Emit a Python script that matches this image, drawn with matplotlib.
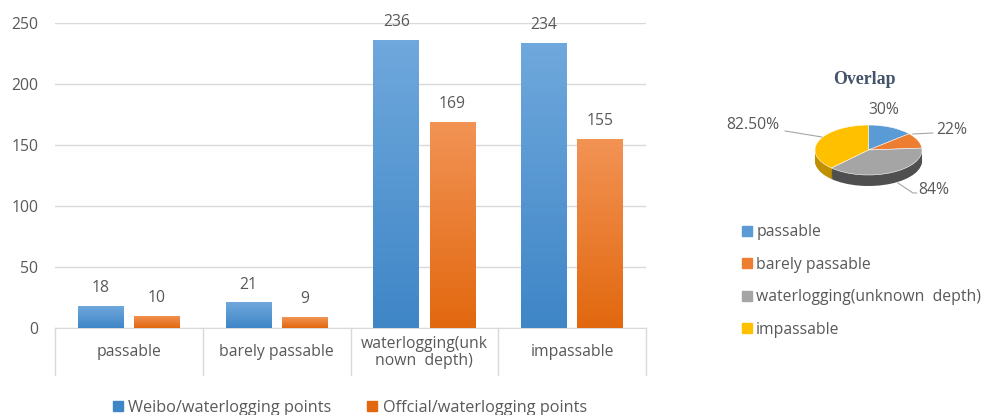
import numpy as np
import matplotlib.pyplot as plt
from matplotlib.patches import Patch

plt.rcParams['font.family'] = ['Open Sans', 'DejaVu Sans']

categories = ['passable', 'barely passable', 'waterlogging(unk\nnown  depth)', 'impassable']
weibo = [18, 21, 236, 234]
official = [10, 9, 169, 155]
series_names = ['Weibo/waterlogging points', 'Offcial/waterlogging points']

pie_labels = ['passable', 'barely passable', 'waterlogging(unknown  depth)', 'impassable']
overlap = [30, 22, 84, 82.5]
overlap_text = ['30%', '22%', '84%', '82.50%']

txt = '#595959'
grid = '#D9D9D9'
blue_top, blue_bot = '#6FA8DC', '#3F86C7'
orng_top, orng_bot = '#F29355', '#E2680F'
fs = 11.3

fig = plt.figure(figsize=(9.87, 4.15), dpi=100)
W, H = 987, 415

def px_axes(x0, y0, x1, y1):
    # axes from pixel box (top-left origin)
    return fig.add_axes([x0 / W, 1 - y1 / H, (x1 - x0) / W, (y1 - y0) / H])

ax = px_axes(55, 23, 646, 328)
x = np.arange(len(categories))
bw = 0.31
off = 0.19

def grad_bars(xs, vals, c_top, c_bot):
    bars = ax.bar(xs, vals, bw, color=c_bot, zorder=2)
    cmap = plt.matplotlib.colors.LinearSegmentedColormap.from_list('g', [c_bot, c_top])
    g = np.linspace(0, 1, 64).reshape(-1, 1)
    for b in bars:
        x0, w, h = b.get_x(), b.get_width(), b.get_height()
        im = ax.imshow(g, cmap=cmap, origin='lower', aspect='auto',
                       extent=[x0, x0 + w, 0, h], zorder=3)
        im.set_clip_path(b)
    return bars

b1 = grad_bars(x - off, weibo, blue_top, blue_bot)
b2 = grad_bars(x + off, official, orng_top, orng_bot)
for bars, vals in ((b1, weibo), (b2, official)):
    for b, v in zip(bars, vals):
        ax.annotate(str(v), (b.get_x() + b.get_width() / 2, v), xytext=(0, 7),
                    textcoords='offset points', ha='center', va='bottom',
                    fontsize=fs, color=txt)

ax.set_xlim(-0.5, len(categories) - 0.5)
ax.set_ylim(0, 250)
ax.set_yticks(range(0, 251, 50))
ax.tick_params(axis='y', length=0, pad=12, labelsize=fs, labelcolor=txt)
ax.yaxis.grid(True, color=grid, lw=1)
ax.set_axisbelow(True)
for s in ['top', 'right', 'left']:
    ax.spines[s].set_visible(False)
ax.spines['bottom'].set_color(grid)
ax.set_xticks([])

# category table below axis
for xb in np.arange(-0.5, len(categories), 1.0):
    ax.plot([xb, xb], [0, -0.155], color=grid, lw=1,
            transform=ax.get_xaxis_transform(), clip_on=False)
for xi, lab in zip(x, categories):
    ax.text(xi, -0.08, lab, transform=ax.get_xaxis_transform(), ha='center',
            va='center', fontsize=fs, color=txt, linespacing=1.15)

fig.legend(handles=[Patch(color=blue_bot), Patch(color=orng_bot)],
           labels=series_names, loc='center', bbox_to_anchor=(350 / W, 1 - 408 / H),
           ncol=2, frameon=False, fontsize=11.7, labelcolor=txt,
           handlelength=0.6, handleheight=0.6, handletextpad=0.35,
           columnspacing=2.2)

# 3-D style pie
pax = px_axes(815, 125, 922, 186)
pie_top = ['#5B9BD5', '#ED7D31', '#A5A5A5', '#FFC000']
pie_side = ['#3D6E9E', '#B35A1C', '#4F4F4F', '#BF9000']
depth = 0.44
nl = 12
for k in range(nl):
    pax.pie(overlap, colors=pie_side, startangle=90, counterclock=False,
            radius=1, center=(0, -depth + k * depth / nl))
pax.pie(overlap, colors=pie_top, startangle=90, counterclock=False, radius=1,
        center=(0, 0), wedgeprops=dict(edgecolor='white', linewidth=0.4))
pax.set_aspect('auto')
pax.set_xlim(-1, 1)
pax.set_ylim(-1 - depth, 1)
pax.axis('off')

lead = '#A6A6A6'
pax.plot([-1.56, -0.87], [0.76, 0.52], color=lead, lw=0.8, clip_on=False)
pax.plot([0.83, 1.2], [0.64, 0.68], color=lead, lw=0.8, clip_on=False)
pax.plot([0.55, 0.83, 0.9], [-1.32, -1.72, -1.72], color=lead, lw=0.8, clip_on=False)
label_xy = [(0.29, 1.6), (1.56, 0.8), (1.22, -1.6), (-2.16, 1.0)]
for (lx, ly), t in zip(label_xy, overlap_text):
    pax.text(lx, ly, t, ha='center', va='center', fontsize=fs, color=txt)

fig.text(864 / W, 1 - 80 / H, 'Overlap', ha='center', va='center',
         fontsize=12.8, fontweight='bold', color='#44546A', family='Liberation Serif')

fig.legend(handles=[Patch(color=c) for c in pie_top], labels=pie_labels,
           loc='upper left', bbox_to_anchor=(728 / W, 1 - 210 / H), frameon=False,
           fontsize=fs, labelcolor=txt, handlelength=0.6, handleheight=0.6,
           handletextpad=0.3, labelspacing=1.05)

fig.savefig('out.png', dpi=100)
